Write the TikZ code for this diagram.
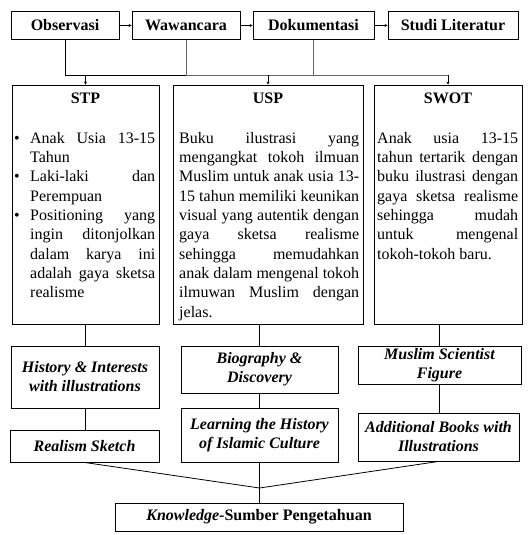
\documentclass[tikz,border=0pt]{standalone}
\usepackage{fontspec}
\setmainfont{Liberation Serif}
\usetikzlibrary{arrows.meta}
\begin{document}
\begin{tikzpicture}[x=1pt,y=-1pt,
  box/.style={draw, line width=0.9pt, inner sep=0pt, align=center,
    font=\fontsize{16}{19}\selectfont\bfseries},
  ibox/.style={box, font=\fontsize{16}{19}\selectfont\bfseries\itshape},
  bodytext/.style={inner sep=0pt, anchor=north west, align=justify,
    font=\fontsize{16}{19.3}\selectfont},
  head/.style={inner sep=0pt, anchor=base, font=\fontsize{16}{19}\selectfont\bfseries},
  conn/.style={line width=0.8pt, draw=black},
  gconn/.style={line width=0.8pt, draw=black!60},
  arr/.style={-{Stealth[length=3pt,width=3pt]}}]
\useasboundingbox (0,0) rectangle (528,535);
% top row
\node[box, minimum width=108pt, minimum height=28pt] (obs) at (65,25.5) {Observasi};
\node[box, minimum width=108pt, minimum height=28pt] (waw) at (186,25.5) {Wawancara};
\node[box, minimum width=121pt, minimum height=28pt] (dok) at (313.5,25.5) {Dokumentasi};
\node[box, minimum width=130pt, minimum height=28pt] (stu) at (453,25.5) {Studi Literatur};
\draw[conn, arr] (obs.east) -- (waw.west);
\draw[conn, arr] (waw.east) -- (dok.west);
\draw[conn, arr] (dok.east) -- (stu.west);
% big boxes
\node[box, minimum width=147pt, minimum height=239pt] (stp) at (85.5,204.5) {};
\node[box, minimum width=190pt, minimum height=239pt] (usp) at (268,204.5) {};
\node[box, minimum width=148pt, minimum height=239pt] (swot) at (448,204.5) {};
% bus
\coordinate (busy) at (0,75);
\draw[conn] (obs.south) -- (obs.south |- busy) -- (waw.south |- busy);
\draw[gconn] (waw.south |- busy) -- (swot.north |- busy);
\draw[gconn] (waw.south) -- (waw.south |- busy);
\draw[gconn] (dok.south) -- (dok.south |- busy);
\draw[conn, arr] (stp.north |- busy) -- (stp.north);
\draw[conn, arr] (usp.north |- busy) -- (usp.north);
\draw[conn, arr] (swot.north |- busy) -- (swot.north);
% headings
\node[head] (stph) at (85.5,103) {STP};
\node[head] (usph) at (268,103) {USP};
\node[head] (swoth) at (448,103) {SWOT};
% bodies
\node[bodytext, text width=141pt] (stpt) at (14,132) {%
\hangindent=16pt\hangafter=1\noindent\makebox[16pt][l]{\textbullet}Anak Usia 13-15\linebreak Tahun\par
\hangindent=16pt\hangafter=1\noindent\makebox[16pt][l]{\textbullet}Laki-laki dan\linebreak Perempuan\par
\hangindent=16pt\hangafter=1\noindent\makebox[16pt][l]{\textbullet}Positioning yang\linebreak ingin ditonjolkan\linebreak dalam karya ini\linebreak adalah gaya sketsa\linebreak realisme\par};
\node[bodytext, text width=180pt] (uspt) at (179,132) {%
Buku ilustrasi yang\linebreak mengangkat tokoh ilmuan\linebreak Muslim untuk anak usia 13-\linebreak 15 tahun memiliki keunikan\linebreak visual yang autentik dengan\linebreak gaya sketsa realisme\linebreak sehingga memudahkan\linebreak anak dalam mengenal tokoh\linebreak ilmuwan Muslim dengan\linebreak jelas.};
\node[bodytext, text width=141pt] (swott) at (377,132) {%
Anak usia 13-15\linebreak tahun tertarik dengan\linebreak buku ilustrasi dengan\linebreak gaya sketsa realisme\linebreak sehingga mudah\linebreak untuk mengenal\linebreak tokoh-tokoh baru.};
% lower rows
\node[ibox, minimum width=148pt, minimum height=62pt] (hist) at (85,377) {History \& Interests\\with illustrations};
\node[ibox, minimum width=157pt, minimum height=47pt] (bio) at (259.5,369.5) {Biography \&\\Discovery};
\node[ibox, minimum width=163pt, minimum height=38pt] (mus) at (439.5,365) {Muslim Scientist\\Figure};
\node[ibox, minimum width=149pt, minimum height=32pt] (real) at (84.5,446) {Realism Sketch};
\node[ibox, minimum width=157pt, minimum height=54pt] (learn) at (259.5,435) {Learning the History\\of Islamic Culture};
\node[ibox, minimum width=161pt, minimum height=48pt] (add) at (438.5,437) {Additional Books with\\Illustrations};
\node[box, minimum width=288pt, minimum height=28pt] (know) at (259,517) {\textit{Knowledge}-Sumber Pengetahuan};
\draw[conn] (hist.north |- stp.south) -- (hist.north);
\draw[conn] (hist.south) -- (hist.south |- real.north);
\draw[conn] (bio.north |- usp.south) -- (bio.north);
\draw[conn] (bio.south) -- (learn.north);
\draw[conn] (mus.north |- swot.south) -- (mus.north);
\draw[conn] (mus.south) -- (mus.south |- add.north);
\coordinate (J) at (259.5,488);
\draw[conn] (real.south) -- (J);
\draw[conn] (add.south) -- (J);
\draw[conn] (learn.south) -- (J) -- (J |- know.north);
\end{tikzpicture}
\end{document}
